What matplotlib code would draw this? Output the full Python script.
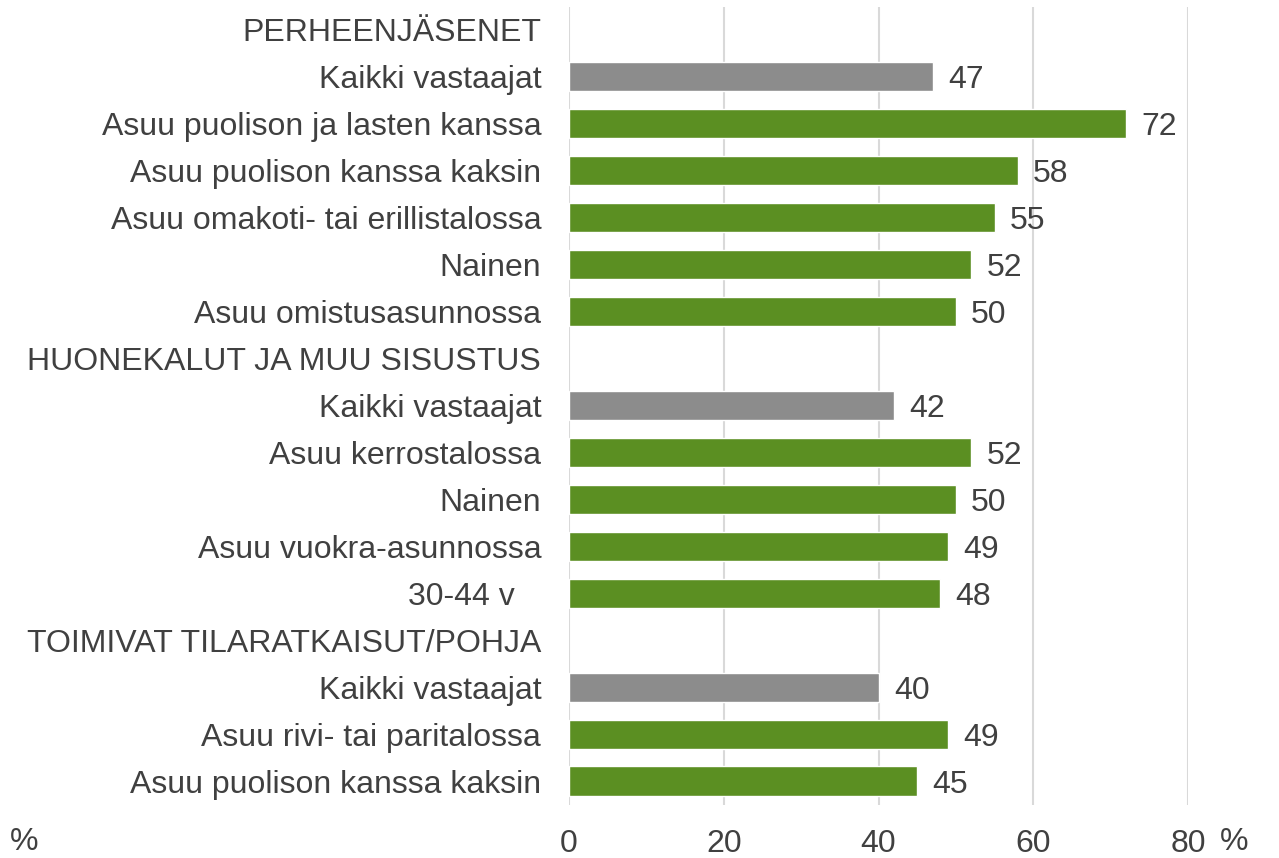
import matplotlib
matplotlib.use("Agg")
import matplotlib.pyplot as plt
import numpy as np

categories = [
    "PERHEENJÄSENET",
    "Kaikki vastaajat",
    "Asuu puolison ja lasten kanssa",
    "Asuu puolison kanssa kaksin",
    "Asuu omakoti- tai erillistalossa",
    "Nainen",
    "Asuu omistusasunnossa",
    "HUONEKALUT JA MUU SISUSTUS",
    "Kaikki vastaajat",
    "Asuu kerrostalossa",
    "Nainen",
    "Asuu vuokra-asunnossa",
    "30-44 v   ",
    "TOIMIVAT TILARATKAISUT/POHJA",
    "Kaikki vastaajat",
    "Asuu rivi- tai paritalossa",
    "Asuu puolison kanssa kaksin",
]
values = [None, 47, 72, 58, 55, 52, 50, None, 42, 52, 50, 49, 48, None, 40, 49, 45]
xticks = [0, 20, 40, 60, 80]

GREEN = "#5B8F22"
GRAY = "#8C8C8C"
TEXT = "#404040"
FS = 23

plt.rcParams["font.family"] = ["Liberation Sans", "DejaVu Sans"]

fig = plt.figure(figsize=(12.79, 8.58), dpi=100)
ax = fig.add_axes([569/1279, 1 - 804.5/858, (1188-569)/1279, (804.5-6.5)/858])

ypos = np.arange(len(categories))
idx = [i for i, v in enumerate(values) if v is not None]
vals = [values[i] for i in idx]
cols = [GRAY if categories[i].strip() == "Kaikki vastaajat" else GREEN for i in idx]

bars = ax.barh(ypos[idx], vals, height=0.62, color=cols, edgecolor="white",
               linewidth=1.0, zorder=3)
labels = ax.bar_label(bars, labels=[str(v) for v in vals], padding=11, fontsize=FS,
                      color=TEXT)
for t in labels:
    t.set_va("center_baseline")

ax.set_xlim(0, 80)
ax.set_ylim(len(categories) - 0.5, -0.5)
ax.set_xticks(xticks)
ax.set_xticklabels([str(t) for t in xticks])
ax.set_yticks(ypos)
ax.set_yticklabels(categories, va="center_baseline")
ax.tick_params(axis="y", length=0, pad=20, labelsize=FS, labelcolor=TEXT)
ax.tick_params(axis="x", length=0, pad=18, labelsize=FS, labelcolor=TEXT)
ax.xaxis.grid(True, color="#D9D9D9", linewidth=1.5, zorder=0)
ax.set_axisbelow(True)
for s in ax.spines.values():
    s.set_visible(False)

fig.text(10/1279, 1 - 842/858, "%", fontsize=FS, color=TEXT, ha="left", va="center")
fig.text(1220/1279, 1 - 842/858, "%", fontsize=FS, color=TEXT, ha="left", va="center")

fig.savefig("out.png", dpi=100, facecolor="white")
